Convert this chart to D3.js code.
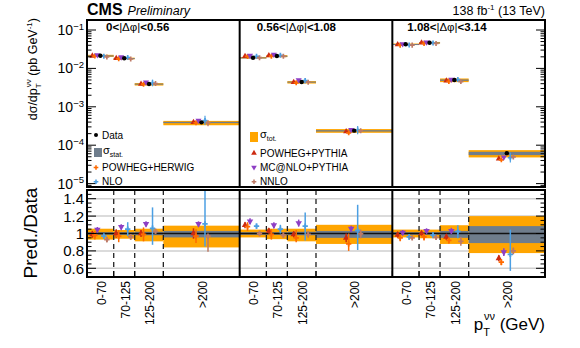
<!DOCTYPE html>
<html><head><meta charset="utf-8">
<script src="https://cdn.jsdelivr.net/npm/d3@7"></script>
<style>body{margin:0;background:#fff} text{font-family:"Liberation Sans",Arial,Helvetica,sans-serif;fill:#000}</style>
</head><body><svg id="c" width="580" height="348"></svg>
<script>
// ---------------- data ----------------
const regions = ["0<|Δφ|<0.56", "0.56<|Δφ|<1.08", "1.08<|Δφ|<3.14"];
const categories = ["0-70", "70-125", "125-200", ">200"];
const binEdges = [0, 70, 125, 200, 400];
const topTicks = [1e-5, 1e-4, 1e-3, 1e-2, 1e-1];
const topTickExp = ["−5", "−4", "−3", "−2", "−1"];
const ratioTicks = [0.6, 0.8, 1.0, 1.2, 1.4];
const ratioTickLabels = ["0.6", "0.8", "1", "1.2", "1.4"];

// measured cross section (pb/GeV), 12 bins (3 regions x 4 pT bins)
const dataVal = [0.0214, 0.0183, 0.00393, 3.94e-4, 0.0190, 0.0210, 0.00443, 2.39e-4, 0.0425, 0.0467, 0.00499, 6.2e-5];
// relative uncertainties
const totUp  = [0.055, 0.04, 0.055, 0.09, 0.045, 0.055, 0.055, 0.10, 0.045, 0.045, 0.095, 0.20];
const totDn  = [0.07, 0.06, 0.09, 0.16, 0.045, 0.065, 0.09, 0.12, 0.045, 0.055, 0.12, 0.225];
const statUp = [0.015, 0.015, 0.02, 0.03, 0.015, 0.015, 0.02, 0.03, 0.015, 0.015, 0.03, 0.085];
const statDn = [0.015, 0.015, 0.02, 0.045, 0.015, 0.015, 0.02, 0.05, 0.015, 0.015, 0.05, 0.11];

// predictions / data
const ppVal = [0.99, 1.00, 1.00, 1.00, 1.095, 1.03, 0.99, 0.95, 0.985, 1.00, 0.96, 0.715];
const ppLo  = [0.04, 0.05, 0.04, 0.06, 0.035, 0.03, 0.035, 0.05, 0.035, 0.025, 0.035, 0.035];
const ppHi  = [0.04, 0.05, 0.04, 0.06, 0.035, 0.03, 0.035, 0.05, 0.035, 0.025, 0.035, 0.035];
const phVal = [0.98, 0.97, 0.99, 0.97, 1.08, 0.99, 0.95, 0.88, 0.95, 0.96, 0.92, 0.67];
const phLo  = [0.05, 0.07, 0.08, 0.08, 0.05, 0.06, 0.05, 0.08, 0.04, 0.04, 0.035, 0.035];
const phHi  = [0.05, 0.07, 0.08, 0.08, 0.05, 0.06, 0.09, 0.12, 0.04, 0.04, 0.035, 0.035];
const mcVal = [1.045, 1.075, 1.11, 1.11, 1.14, 1.095, 1.12, 1.055, 1.01, 1.03, 1.03, 0.785];
const mcLo  = [0.03, 0.03, 0.03, 0.03, 0.035, 0.035, 0.04, 0.035, 0.03, 0.03, 0.035, 0.045];
const mcHi  = [0.03, 0.03, 0.03, 0.03, 0.035, 0.035, 0.04, 0.035, 0.03, 0.03, 0.035, 0.045];
const nloVal = [0.97, 1.05, 1.06, 1.11, 1.085, 1.05, 1.085, 1.035, 0.96, 0.98, 1.025, 0.76];
const nloLo  = [0.03, 0.08, 0.19, 0.26, 0.03, 0.05, 0.165, 0.225, 0.03, 0.035, 0.08, 0.19];
const nloHi  = [0.03, 0.08, 0.24, 0.38, 0.03, 0.05, 0.155, 0.295, 0.03, 0.035, 0.07, 0.285];
const nnloVal = [0.93, 0.96, 1.025, 0.97, 1.00, 0.98, 0.99, 0.995, 0.95, 0.955, 0.91, 0.80];
const nnloLo  = [0.03, 0.03, 0.03, 0.18, 0.03, 0.03, 0.04, 0.05, 0.02, 0.025, 0.05, 0.04];
const nnloHi  = [0.03, 0.03, 0.03, 0.02, 0.03, 0.03, 0.04, 0.05, 0.02, 0.025, 0.05, 0.04];

const models = [
  {name: "POWHEG+PYTHIA", val: ppVal, lo: ppLo, hi: ppHi, color: "#cc2a10", sym: "tri", off: -8},
  {name: "POWHEG+HERWIG", val: phVal, lo: phLo, hi: phHi, color: "#ff6a00", sym: "cross", off: -5.5},
  {name: "MC@NLO+PYTHIA", val: mcVal, lo: mcLo, hi: mcHi, color: "#8e3fc4", sym: "tridown", off: -3},
  {name: "NLO", val: nloVal, lo: nloLo, hi: nloHi, color: "#4b9fe3", sym: "cross", off: 3.5},
  {name: "NNLO", val: nnloVal, lo: nnloLo, hi: nnloHi, color: "#bd7a66", sym: "cross", off: 6.5}
];

// ---------------- layout ----------------
const svg = d3.select("#c");
const L = 87, R = 545, T0 = 20, T1 = 187, R0 = 190, R1 = 277;
const x = d3.scaleLinear().domain([0, 1200]).range([L, R]);
const yT = d3.scaleLog().domain([1e-5, 1e-1]).range([183.6, 30]);
const yR = d3.scaleLinear().domain([0.5, 1.5]).range([R1, R0]);

const bins = [];
regions.forEach((r, k) => categories.forEach((c, j) => {
  bins.push({k, j, x0: 400 * k + binEdges[j], x1: 400 * k + binEdges[j + 1], i: k * 4 + j});
}));
const cx = b => x((b.x0 + b.x1) / 2);

const defs = svg.append("defs");
defs.append("clipPath").attr("id", "clipT").append("rect").attr("x", L).attr("y", T0).attr("width", R - L).attr("height", T1 - T0);
defs.append("clipPath").attr("id", "clipR").append("rect").attr("x", L).attr("y", R0).attr("width", R - L).attr("height", R1 - R0);

const COL_TOT = "#ffa500", COL_STAT = "#6f7d8c";

function symbolPath(s, size) {
  if (s === "tri" || s === "tridown") return d3.symbol(d3.symbolTriangle, size)();
  return d3.symbol(d3.symbolCross, size)();
}
function drawMarker(g, s, px, py, color, size) {
  g.append("path").attr("d", symbolPath(s, size))
    .attr("transform", `translate(${px},${py})` + (s === "tridown" ? " rotate(180)" : ""))
    .attr("fill", color);
}

// ---------------- top pad ----------------
const gT = svg.append("g").attr("clip-path", "url(#clipT)");
bins.forEach(b => {
  const d = dataVal[b.i];
  gT.append("rect").attr("x", x(b.x0)).attr("width", x(b.x1) - x(b.x0))
    .attr("y", yT(d * (1 + totUp[b.i]))).attr("height", yT(d * (1 - totDn[b.i])) - yT(d * (1 + totUp[b.i])))
    .attr("fill", COL_TOT);
  gT.append("rect").attr("x", x(b.x0)).attr("width", x(b.x1) - x(b.x0))
    .attr("y", yT(d * (1 + statUp[b.i]))).attr("height", Math.max(1, yT(d * (1 - statDn[b.i])) - yT(d * (1 + statUp[b.i]))))
    .attr("fill", COL_STAT);
  models.forEach(m => {
    const v = d * m.val[b.i];
    const px = cx(b) + m.off;
    gT.append("line").attr("x1", px).attr("x2", px)
      .attr("y1", yT(d * (m.val[b.i] + m.hi[b.i]))).attr("y2", yT(d * (m.val[b.i] - m.lo[b.i])))
      .attr("stroke", m.color).attr("stroke-width", 1.2);
    drawMarker(gT, m.sym, px, yT(v), m.color, m.sym === "cross" ? 14 : 16);
  });
  gT.append("circle").attr("cx", cx(b)).attr("cy", yT(d)).attr("r", 2.2).attr("fill", "#000");
});

// top axes ticks
const gTA = svg.append("g");
const minorT = [];
for (let e = -6; e <= 0; e++) for (let m = 1; m <= 9; m++) {
  const v = m * Math.pow(10, e);
  if (yT(v) >= T0 && yT(v) <= T1) minorT.push({v, major: m === 1});
}
minorT.forEach(t => {
  const len = t.major ? 9 : 4.5;
  gTA.append("line").attr("x1", L).attr("x2", L + len).attr("y1", yT(t.v)).attr("y2", yT(t.v)).attr("stroke", "#000");
  gTA.append("line").attr("x1", R).attr("x2", R - len).attr("y1", yT(t.v)).attr("y2", yT(t.v)).attr("stroke", "#000");
});
topTicks.forEach((t, i) => {
  const tx = gTA.append("text").attr("x", L - 3).attr("y", yT(t)).attr("dy", "0.36em")
    .attr("text-anchor", "end").style("font-size", "14px");
  tx.append("tspan").text("10");
  tx.append("tspan").attr("dy", "-0.55em").style("font-size", "9.5px").text(topTickExp[i]);
});
// panel separators top
[400, 800].forEach(v => svg.append("line").attr("x1", x(v)).attr("x2", x(v)).attr("y1", T0).attr("y2", T1)
  .attr("stroke", "#000").attr("stroke-width", 2));
svg.append("rect").attr("x", L).attr("y", T0).attr("width", R - L).attr("height", T1 - T0)
  .attr("fill", "none").attr("stroke", "#000").attr("stroke-width", 2);

// region titles
regions.forEach((r, k) => {
  const parts = r.split("|Δφ|");
  const t = svg.append("text").attr("x", x(400 * k) + 19 - 2 * k).attr("y", 31).style("font-size", "11.5px");
  t.append("tspan").style("font-weight", "bold").text(parts[0]);
  t.append("tspan").text("|Δφ|");
  t.append("tspan").style("font-weight", "bold").text(parts[1]);
});

// legend
const leg = svg.append("g");
leg.append("circle").attr("cx", 96).attr("cy", 135).attr("r", 2).attr("fill", "#000");
leg.append("text").attr("x", 102).attr("y", 138.5).style("font-size", "10px").text("Data");
leg.append("rect").attr("x", 94).attr("y", 148).attr("width", 8).attr("height", 9).attr("fill", COL_STAT);
const ls = leg.append("text").attr("x", 103).attr("y", 154).style("font-size", "11px");
ls.append("tspan").text("σ");
ls.append("tspan").attr("dy", "3").style("font-size", "7px").text("stat.");
drawMarker(leg, "cross", 96, 167.5, models[1].color, 12);
leg.append("text").attr("x", 102).attr("y", 171).style("font-size", "10px").text("POWHEG+HERWIG");
drawMarker(leg, "cross", 96, 181.7, models[3].color, 12);
leg.append("text").attr("x", 102).attr("y", 185.2).style("font-size", "10px").text("NLO");

leg.append("rect").attr("x", 250).attr("y", 132).attr("width", 8).attr("height", 10).attr("fill", COL_TOT);
const lt = leg.append("text").attr("x", 260).attr("y", 138).style("font-size", "11px");
lt.append("tspan").text("σ");
lt.append("tspan").attr("dy", "3").style("font-size", "7px").text("tot.");
drawMarker(leg, "tri", 254, 153, models[0].color, 14);
leg.append("text").attr("x", 260).attr("y", 156.5).style("font-size", "10px").text("POWHEG+PYTHIA");
drawMarker(leg, "tridown", 254, 167.3, models[2].color, 14);
leg.append("text").attr("x", 260).attr("y", 170.8).style("font-size", "10px").text("MC@NLO+PYTHIA");
drawMarker(leg, "cross", 254, 181.7, models[4].color, 12);
leg.append("text").attr("x", 260).attr("y", 185.2).style("font-size", "10px").text("NNLO");

// ---------------- ratio pad ----------------
const gR = svg.append("g").attr("clip-path", "url(#clipR)");
ratioTicks.filter(t => t !== 1).forEach(t => gR.append("line").attr("x1", L).attr("x2", R)
  .attr("y1", yR(t)).attr("y2", yR(t)).attr("stroke", "#cfcfcf").attr("stroke-width", 1.5));
bins.forEach(b => {
  gR.append("rect").attr("x", x(b.x0)).attr("width", x(b.x1) - x(b.x0))
    .attr("y", yR(1 + totUp[b.i])).attr("height", yR(1 - totDn[b.i]) - yR(1 + totUp[b.i])).attr("fill", COL_TOT);
  gR.append("rect").attr("x", x(b.x0)).attr("width", x(b.x1) - x(b.x0))
    .attr("y", yR(1 + statUp[b.i])).attr("height", yR(1 - statDn[b.i]) - yR(1 + statUp[b.i])).attr("fill", COL_STAT);
});
gR.append("line").attr("x1", L).attr("x2", R).attr("y1", yR(1)).attr("y2", yR(1)).attr("stroke", "#111").attr("stroke-width", 1.6);
// dashed bin boundaries
regions.forEach((r, k) => [70, 125, 200].forEach(e => gR.append("line")
  .attr("x1", x(400 * k + e)).attr("x2", x(400 * k + e)).attr("y1", R0).attr("y2", R1)
  .attr("stroke", "#222").attr("stroke-width", 1.3).attr("stroke-dasharray", "5,4")));
bins.forEach(b => {
  models.forEach(m => {
    const px = cx(b) + m.off;
    gR.append("line").attr("x1", px).attr("x2", px)
      .attr("y1", yR(m.val[b.i] + m.hi[b.i])).attr("y2", yR(m.val[b.i] - m.lo[b.i]))
      .attr("stroke", m.color).attr("stroke-width", 1.5);
    drawMarker(gR, m.sym, px, yR(m.val[b.i]), m.color, m.sym === "cross" ? 16 : 18);
  });
});
// ratio ticks
for (let v = 0.5; v <= 1.5001; v += 0.05) {
  const major = ratioTicks.some(t => Math.abs(t - v) < 1e-6);
  const len = major ? 9 : 4.5;
  svg.append("line").attr("x1", L).attr("x2", L + len).attr("y1", yR(v)).attr("y2", yR(v)).attr("stroke", "#000");
  svg.append("line").attr("x1", R).attr("x2", R - len).attr("y1", yR(v)).attr("y2", yR(v)).attr("stroke", "#000");
}
ratioTicks.forEach((t, i) => svg.append("text").attr("x", L - 3).attr("y", yR(t)).attr("dy", "0.36em")
  .attr("text-anchor", "end").style("font-size", "15px").text(ratioTickLabels[i]));
[400, 800].forEach(v => svg.append("line").attr("x1", x(v)).attr("x2", x(v)).attr("y1", R0).attr("y2", R1)
  .attr("stroke", "#000").attr("stroke-width", 2));
svg.append("rect").attr("x", L).attr("y", R0).attr("width", R - L).attr("height", R1 - R0)
  .attr("fill", "none").attr("stroke", "#000").attr("stroke-width", 2);
// x ticks + labels
bins.forEach(b => {
  svg.append("line").attr("x1", x(b.x1)).attr("x2", x(b.x1)).attr("y1", R1).attr("y2", R1 - 6).attr("stroke", "#000");
  svg.append("text").attr("transform", `translate(${cx(b) + 1},${281}) rotate(-90)`)
    .attr("text-anchor", "end").attr("dy", "0.36em").style("font-size", "12px").text(categories[b.j]);
});

// ---------------- titles ----------------
const cms = svg.append("text").attr("x", 87).attr("y", 15);
cms.append("tspan").style("font-weight", "bold").style("font-size", "16px").text("CMS");
cms.append("tspan").attr("dx", "5").style("font-style", "italic").style("font-size", "12.5px").text("Preliminary");
const lumi = svg.append("text").attr("x", 545).attr("y", 15).attr("text-anchor", "end").style("font-size", "12.5px");
lumi.append("tspan").text("138 fb");
lumi.append("tspan").attr("dy", "-5").style("font-size", "8px").text("-1");
lumi.append("tspan").attr("dy", "5").text(" (13 TeV)");

const yt = svg.append("text").attr("transform", "translate(37,18) rotate(-90)").attr("text-anchor", "end").style("font-size", "12.5px");
yt.append("tspan").text("dσ/dp");
yt.append("tspan").attr("dy", "4").style("font-size", "8px").text("T");
yt.append("tspan").attr("dy", "-10").attr("dx", "-4").style("font-size", "8px").text("νν");
yt.append("tspan").attr("dy", "6").text(" (pb GeV");
yt.append("tspan").attr("dy", "-5").style("font-size", "8px").text("-1");
yt.append("tspan").attr("dy", "5").text(")");

svg.append("text").attr("transform", "translate(37,233) rotate(-90)").attr("text-anchor", "middle")
  .style("font-size", "19px").text("Pred./Data");

const xt = svg.append("text").attr("x", 545).attr("y", 330).attr("text-anchor", "end").style("font-size", "17px");
xt.append("tspan").text("p");
xt.append("tspan").attr("dy", "6").style("font-size", "11px").text("T");
xt.append("tspan").attr("dy", "-16").attr("dx", "-6").style("font-size", "11px").text("νν");
xt.append("tspan").attr("dy", "10").text("  (GeV)");
</script></body></html>
